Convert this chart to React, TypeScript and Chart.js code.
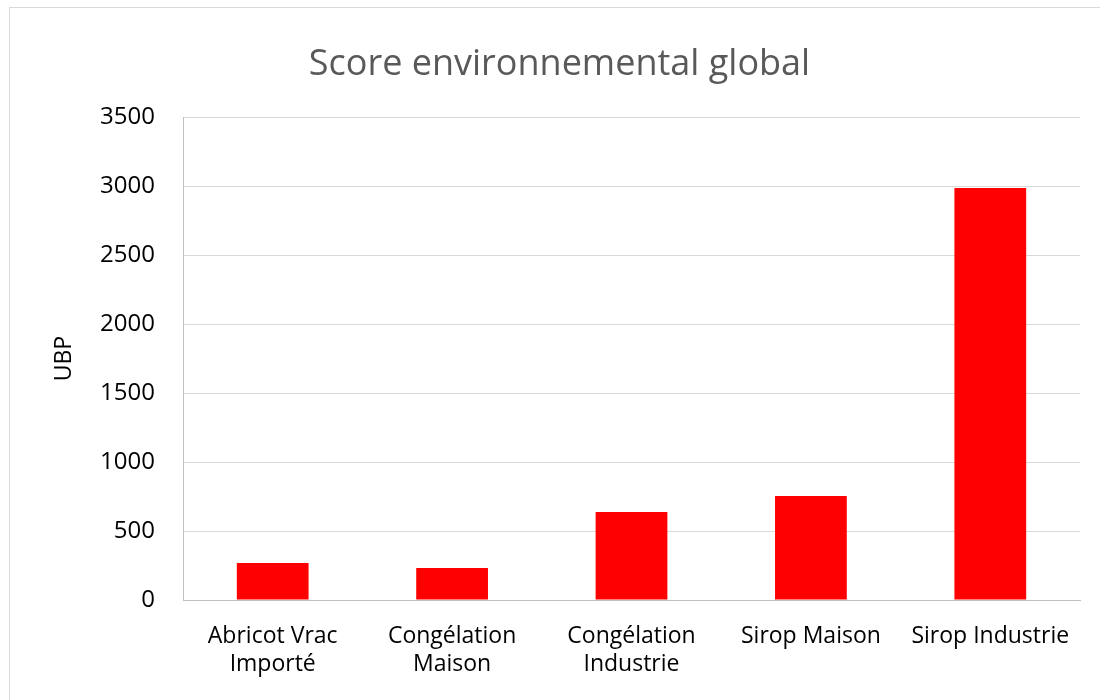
import React, { useEffect, useRef } from "react";
import { Chart, registerables } from "chart.js";

Chart.register(...registerables);

const categories: (string | string[])[] = [
  ["Abricot Vrac", "Importé"],
  ["Congélation", "Maison"],
  ["Congélation", "Industrie"],
  "Sirop Maison",
  "Sirop Industrie",
];
const scores = [268, 232, 638, 754, 2986];
const chartTitle = "Score environnemental global";
const yTitle = "UBP";

const FONT = "'Open Sans', 'Noto Sans', sans-serif";

export default function App() {
  const ref = useRef<HTMLCanvasElement | null>(null);
  useEffect(() => {
    if (!ref.current) return;
    const chart = new Chart(ref.current, {
      type: "bar",
      data: {
        labels: categories,
        datasets: [
          {
            data: scores,
            backgroundColor: "#ff0000",
            borderWidth: 0,
            categoryPercentage: 1,
            barPercentage: 0.4,
          },
        ],
      },
      options: {
        responsive: false,
        animation: false,
        layout: { padding: { left: 39, right: 20, top: 0, bottom: 0 } },
        plugins: {
          legend: { display: false },
          tooltip: { enabled: false },
          title: {
            display: true,
            text: chartTitle,
            color: "#595959",
            font: { family: FONT, size: 36, weight: "normal", lineHeight: 1.2 },
            padding: { top: 43, bottom: 31 },
          },
        },
        scales: {
          x: {
            grid: { display: false, drawTicks: false },
            border: { display: true, color: "#bfbfbf", width: 1 },
            ticks: {
              color: "#000000",
              font: { family: FONT, size: 23, lineHeight: 1.2 },
              padding: 23,
              maxRotation: 0,
              autoSkip: false,
            },
            afterFit: (s: any) => {
              s.height = 100;
            },
          },
          y: {
            min: 0,
            max: 3500,
            grid: { color: "#d9d9d9", lineWidth: 1, drawTicks: false },
            border: { display: true, color: "#bfbfbf", width: 1 },
            ticks: {
              stepSize: 500,
              color: "#000000",
              font: { family: FONT, size: 24 },
              padding: 28,
              callback: (v: any) => String(v),
            },
            title: {
              display: true,
              text: yTitle,
              color: "#000000",
              font: { family: FONT, size: 23 },
              padding: { top: 12, bottom: 0 },
            },
            afterFit: (s: any) => {
              s.width = 144;
            },
          },
        },
      },
    });
    return () => chart.destroy();
  }, []);
  return (
    <div style={{ position: "absolute", left: 0, top: 0, width: 1100, height: 700, overflow: "hidden", background: "#fff" }}>
      <div
        style={{
          position: "absolute",
          left: 9,
          top: 7,
          width: 1100,
          height: 700,
          border: "1px solid #d9d9d9",
          boxSizing: "border-box",
        }}
      />
      <canvas ref={ref} width={1100} height={700} style={{ position: "absolute", left: 0, top: 0 }} />
    </div>
  );
}
